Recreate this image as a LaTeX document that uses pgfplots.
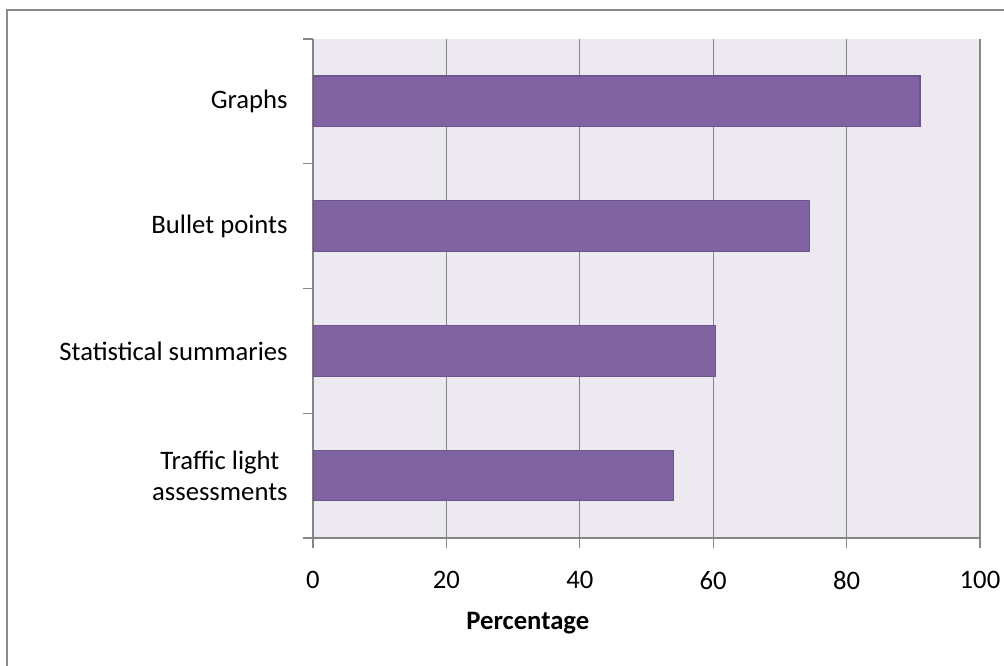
\documentclass[border=0pt]{standalone}
\usepackage{pgfplots}
\pgfplotsset{compat=1.18}
\usepackage{fontspec}
\setmainfont{Carlito}
\definecolor{barfill}{RGB}{128,100,162}
\definecolor{baredge}{RGB}{110,84,142}
\definecolor{plotbg}{RGB}{236,234,240}
\definecolor{gridgray}{RGB}{134,134,134}
\definecolor{framegray}{RGB}{140,140,140}

\begin{document}
\begin{tikzpicture}[x=1pt,y=1pt]
  % page size: 1004x666 px at 0.75pt/px, axis box starts at px (313,538)
  \useasboundingbox (-234.75pt,-96pt) rectangle (518.25pt,403.5pt);
  \draw[framegray, line width=1.6pt] (-229.5pt,-110pt) -- (-229.5pt,396pt) -- (530pt,396pt);
  \begin{axis}[
    at={(0pt,0pt)}, anchor=south west,
    scale only axis,
    width=500.25pt, height=374.25pt,
    xbar, bar width=38pt,
    xmin=0, xmax=100,
    ymin=-0.5, ymax=3.5,
    xtick={0,20,40,60,80,100},
    ytick={-0.5,0.5,1.5,2.5,3.5},
    y tick label as interval,
    yticklabels={{Traffic light\\assessments},{Statistical summaries},{Bullet points},{Graphs}},
    yticklabel style={align=center, font=\fontsize{20}{23}\selectfont, xshift=-8pt},
    xticklabel style={font=\fontsize{20}{24}\selectfont, yshift=-14pt},
    /pgf/number format/assume math mode=true,
    tick align=outside,
    major tick length=7.5pt,
    tick style={gridgray, line width=0.8pt},
    xmajorgrids,
    major grid style={gridgray, line width=0.8pt},
    axis background/.style={fill=plotbg},
    axis line style={gridgray, line width=1pt},
    axis x line*=bottom,
    axis y line*=left,
    xlabel={\textbf{Percentage}},
    xlabel style={font=\fontsize{20}{24}\selectfont, yshift=-10pt, xshift=-89pt},
  ]
    \addplot[fill=barfill, draw=baredge, line width=0.8pt] coordinates {
      (54.0,0) (60.3,1) (74.5,2) (91.0,3)
    };
  \end{axis}
\end{tikzpicture}
\end{document}
